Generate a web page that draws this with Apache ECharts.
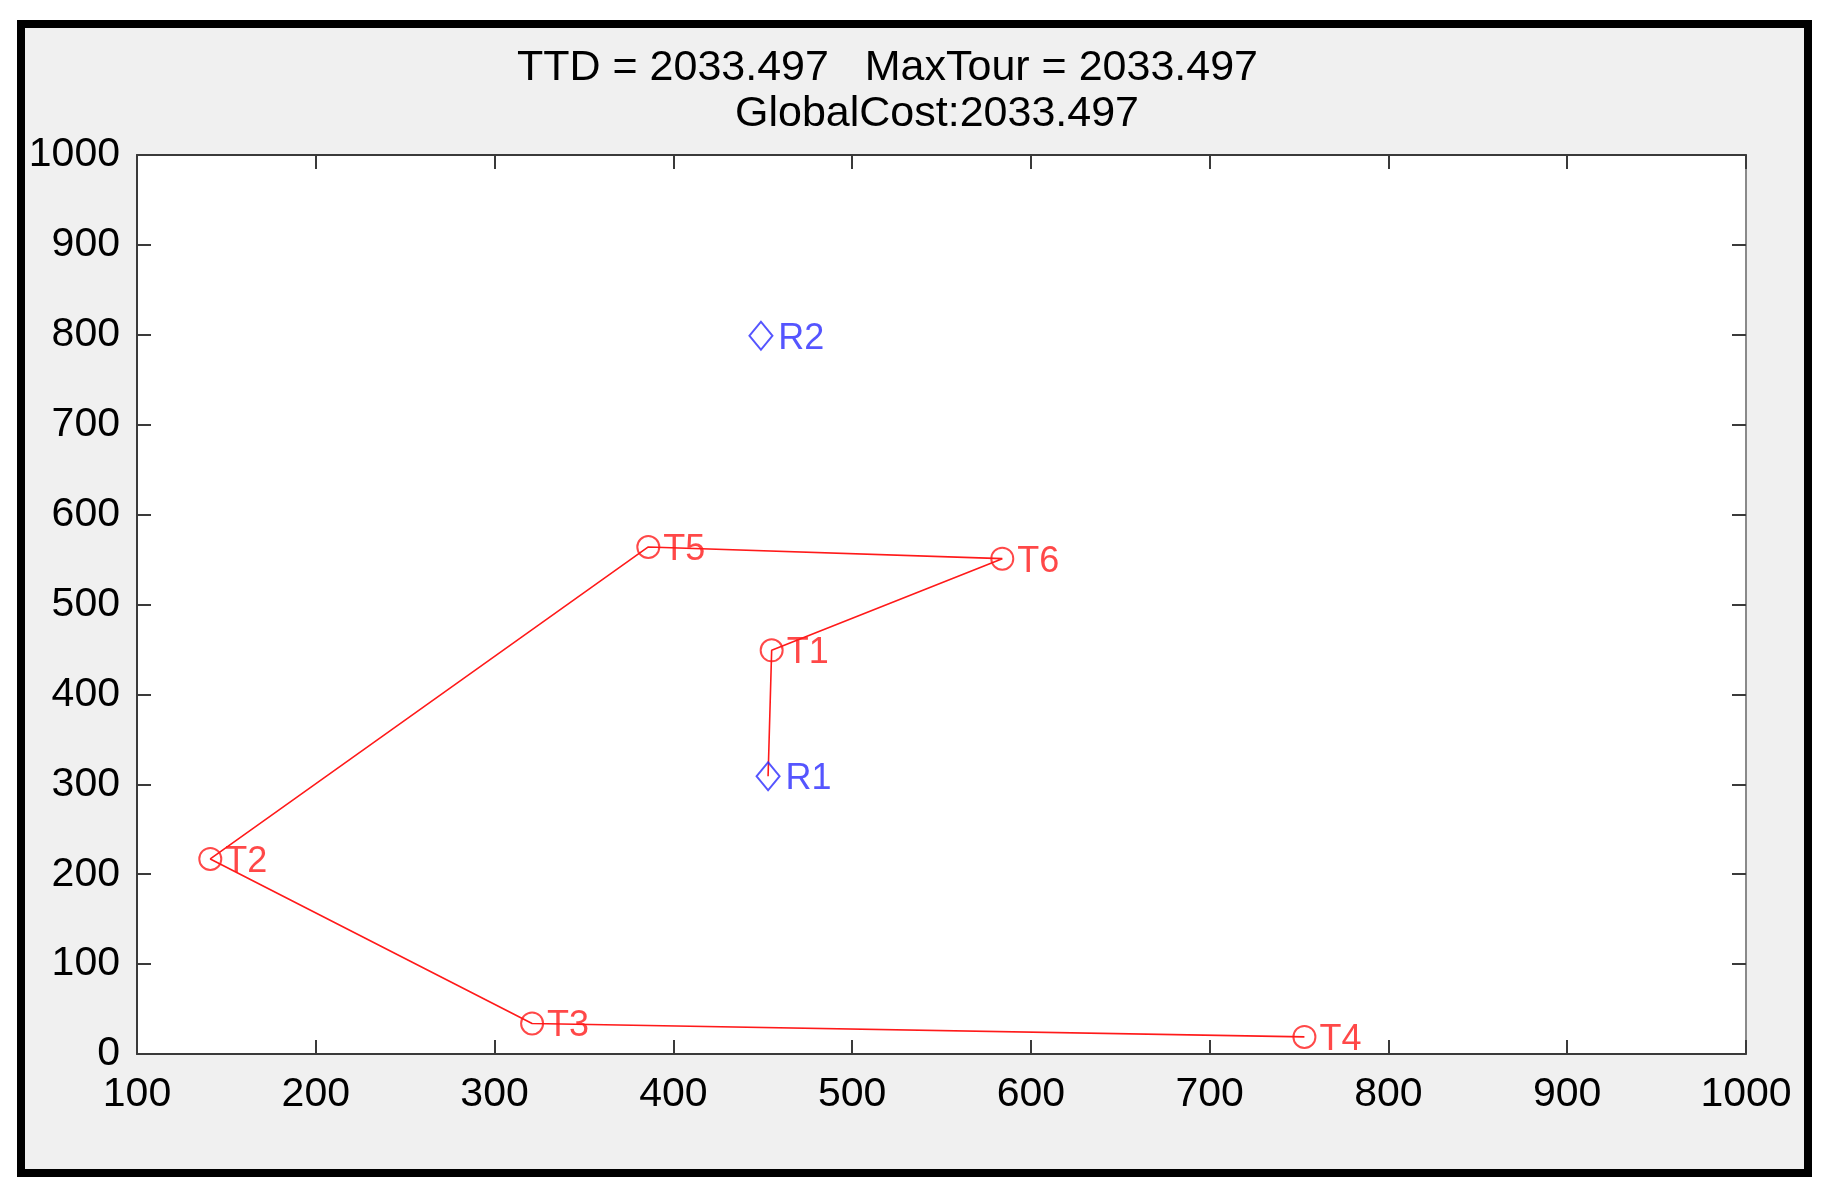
<!DOCTYPE html>
<html>
<head>
<meta charset="utf-8">
<script src="https://cdn.jsdelivr.net/npm/echarts@6/dist/echarts.min.js"></script>
<style>
  html, body { margin: 0; padding: 0; background: #ffffff; }
  #frame {
    position: absolute; left: 17px; top: 20px; width: 1795px; height: 1157px;
    box-sizing: border-box; border: 8px solid #000; background: #f0f0f0;
  }
  #chart { position: absolute; left: 0; top: 0; width: 1830px; height: 1200px; }
</style>
</head>
<body>
<div id="frame"></div>
<div id="chart"></div>
<script>
// ---- data ----
const titleLine1 = 'TTD = 2033.497   MaxTour = 2033.497';
const titleLine2 = 'GlobalCost:2033.497';

const targetNames = ['T1', 'T2', 'T3', 'T4', 'T5', 'T6'];
const targetX = [455, 141, 321, 753, 386, 584];
const targetY = [449, 217, 34, 19, 564, 551];

const robotNames = ['R1', 'R2'];
const robotX = [453, 449];
const robotY = [309, 799];

const tourOrder = ['R1', 'T1', 'T6', 'T5', 'T2', 'T3', 'T4'];

const xTicks = [100, 1000, 100]; // min, max, interval
const yTicks = [0, 1000, 100];

// ---- build series data ----
const lookup = {};
targetNames.forEach((n, i) => { lookup[n] = [targetX[i], targetY[i]]; });
robotNames.forEach((n, i) => { lookup[n] = [robotX[i], robotY[i]]; });
const routeData = tourOrder.map(n => lookup[n]);
const targetData = targetNames.map((n, i) => ({ name: n, value: [targetX[i], targetY[i]] }));
const robotData = robotNames.map((n, i) => ({ name: n, value: [robotX[i], robotY[i]] }));

const RED = '#ff1a1a';
const BLUE = '#2a2aff';
const FONT = 'Liberation Sans';

function axisCommon(minmax, pos, showLabel) {
  return {
    type: 'value', position: pos,
    min: minmax[0], max: minmax[1], interval: minmax[2],
    splitLine: { show: false },
    axisLine: { show: true, onZero: false, lineStyle: { color: (pos === 'right') ? '#8a8a8a' : '#3a3a3a', width: 2 } },
    axisTick: { show: true, inside: true, length: 14, lineStyle: { color: '#3a3a3a', width: 2 } },
    axisLabel: { show: showLabel, color: '#000', fontFamily: FONT, fontSize: 41,
      margin: pos === 'bottom' ? 20 : 17, formatter: v => String(v) }
  };
}

const chart = echarts.init(document.getElementById('chart'), null, { renderer: 'canvas' });
chart.setOption({
  backgroundColor: 'transparent',
  animation: false,
  title: [
    { text: titleLine1, left: 517, top: 47, padding: 0,
      textStyle: { fontFamily: FONT, fontSize: 43, fontWeight: 'normal', color: '#000' } },
    { text: titleLine2, left: 735, top: 93, padding: 0,
      textStyle: { fontFamily: FONT, fontSize: 43, fontWeight: 'normal', color: '#000' } }
  ],
  grid: { left: 137, top: 155, right: 84, bottom: 146, show: true, backgroundColor: '#ffffff', borderWidth: 0, containLabel: false },
  xAxis: [ axisCommon(xTicks, 'bottom', true), axisCommon(xTicks, 'top', false) ],
  yAxis: [ axisCommon(yTicks, 'left', true), axisCommon(yTicks, 'right', false) ],
  series: [
    {
      type: 'line', name: 'route', data: routeData, xAxisIndex: 0, yAxisIndex: 0,
      symbol: 'none', lineStyle: { color: RED, width: 1.6 }, z: 2
    },
    {
      type: 'scatter', name: 'targets', data: targetData, xAxisIndex: 0, yAxisIndex: 0,
      symbol: 'circle', symbolSize: 22,
      itemStyle: { color: 'transparent', borderColor: RED, borderWidth: 2 },
      label: { show: true, position: 'right', distance: 3, offset: [0, 3], formatter: '{b}', color: RED, fontFamily: FONT, fontSize: 36 },
      z: 3
    },
    {
      type: 'scatter', name: 'robots', data: robotData, xAxisIndex: 0, yAxisIndex: 0,
      symbol: 'diamond', symbolSize: [23, 28],
      itemStyle: { color: 'transparent', borderColor: BLUE, borderWidth: 2 },
      label: { show: true, position: 'right', distance: 5, offset: [0, 3], formatter: '{b}', color: BLUE, fontFamily: FONT, fontSize: 36 },
      z: 3
    }
  ]
});
</script>
</body>
</html>
